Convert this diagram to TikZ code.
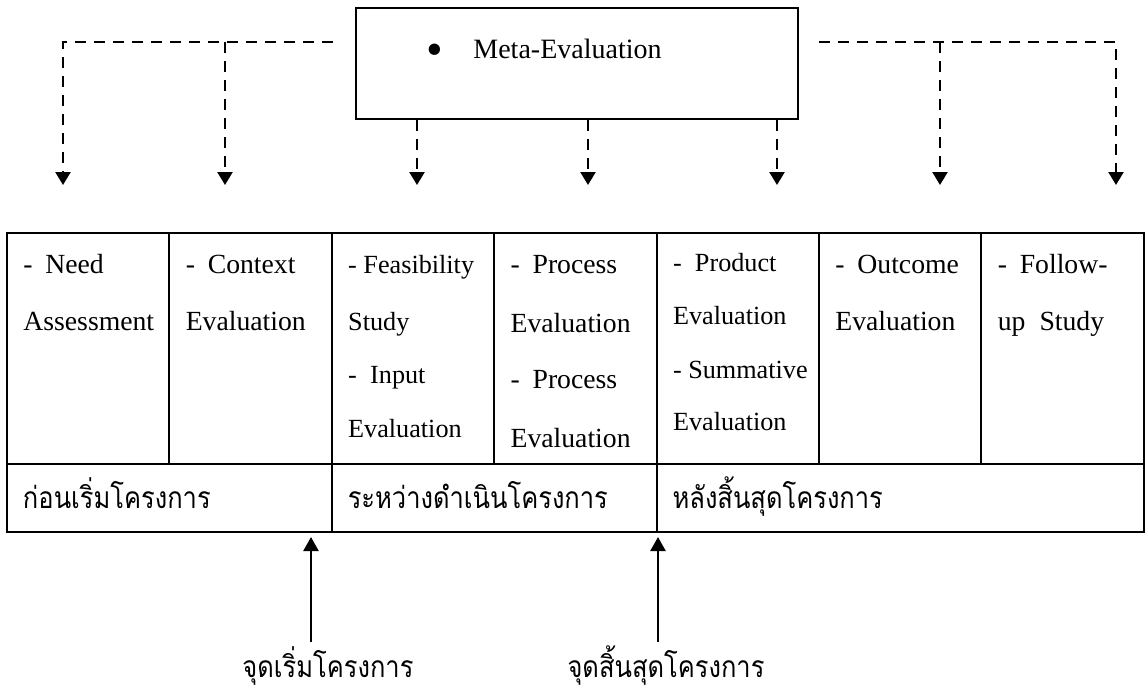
\documentclass[tikz,border=0pt]{standalone}
\usepackage{fontspec}
\usepackage{graphicx}
\setmainfont{Liberation Serif}
\newfontfamily\thaifont[Script=Thai,FakeStretch=0.85]{Loma}
\usetikzlibrary{arrows.meta,positioning}
\tikzset{
  cell/.style = {draw, line width=1pt, inner sep=0pt, outer sep=0pt, anchor=north west,
                 minimum width=81.2pt, minimum height=115.5pt},
  bcell/.style = {draw, line width=1pt, inner xsep=8pt, inner ysep=0pt, outer sep=0pt,
                  anchor=north west, minimum height=34pt, align=left,
                  text height=12pt, text depth=2pt, font=\thaifont\fontsize{15pt}{17pt}\selectfont},
  txt/.style = {anchor=base west, inner sep=0pt, font=\fontsize{13.85pt}{16pt}\selectfont},
  stxt/.style = {anchor=base west, inner sep=0pt, font=\fontsize{13.1pt}{15pt}\selectfont},
  lbl/.style = {anchor=base, inner sep=0pt, font=\thaifont\fontsize{15pt}{17pt}\selectfont},
  dashline/.style = {line width=1.2pt, dash pattern=on 5.5pt off 4pt,
                     -{Triangle[length=6.5pt,width=7.5pt]}},
  uparrow/.style = {line width=1.2pt, -{Triangle[length=7pt,width=7.5pt]}}
}
\newcommand\dd[1]{\makebox[11pt][l]{-}#1}
\begin{document}
\begin{tikzpicture}[x=0.5pt, y=-0.5pt]
\useasboundingbox (0,0) rectangle (1145,698);

% Meta-Evaluation box
\node[draw, line width=1pt, minimum width=221pt, minimum height=55.5pt] (meta) at (577,63.5) {};
\node[txt, font=\fontsize{14pt}{16pt}\selectfont] (metatext) at (426,58)
     {\makebox[23.5pt][l]{\raisebox{-3.8pt}{\scalebox{1.7}{\textbullet}}}Meta-Evaluation};

% arrow targets above the table
\foreach \x [count=\i] in {63,225,417,588,777,940,1116}
  \coordinate (t\i) at (\x,185);
\coordinate (lj) at (333,42);
\coordinate (rj) at (819,42);

\draw[dashline] (lj) -| (t1);
\draw[dashline] (t2 |- lj) -- (t2);
\foreach \i in {3,4,5}
  \draw[dashline] (t\i |- meta.south) -- (t\i);
\draw[dashline] (rj) -| (t7);
\draw[dashline] (t6 |- rj) -- (t6);

% table, upper row
\node[cell] (c1) at (7,233) {};
\foreach \i [remember=\i as \j (initially 1)] in {2,...,7}
  \node[cell, right=0pt of c\j] (c\i) {};

\foreach \c/\dy/\t/\s [count=\n] in {
    1/40/\dd{Need}/txt, 1/97/Assessment/txt,
    2/40/\dd{Context}/txt, 2/97/Evaluation/txt,
    3/40/- Feasibility/stxt, 3/97/Study/stxt, 3/150/\dd{Input}/stxt, 3/204/Evaluation/stxt,
    4/40/\dd{Process}/txt, 4/99/Evaluation/txt, 4/155/\dd{Process}/txt, 4/214/Evaluation/txt,
    5/38/\dd{Product}/stxt, 5/91/Evaluation/stxt, 5/145/- Summative/stxt, 5/197/Evaluation/stxt,
    6/40/\dd{Outcome}/txt, 6/97/Evaluation/txt,
    7/40/\dd{Follow-}/txt, 7/97/{up\hspace{7pt}Study}/txt}
  \node[\s] (l\n) at ([shift={(16,\dy)}]c\c.north west) {\t};

% table, lower row
\node[bcell, minimum width=162.4pt, text width=146.4pt] (b1) at (c1.south west) {ก่อนเริ่มโครงการ};
\node[bcell, minimum width=162.4pt, text width=146.4pt] (b2) at (c3.south west) {ระหว่างดำเนินโครงการ};
\node[bcell, minimum width=243.6pt, text width=227.6pt] (b3) at (c5.south west) {หลังสิ้นสุดโครงการ};

% start and end of the project
\node[lbl] (startlbl) at (328,677) {จุดเริ่มโครงการ};
\node[lbl] (endlbl) at (666,677) {จุดสิ้นสุดโครงการ};
\coordinate (sp) at (311,642);
\coordinate (ep) at (658,642);
\draw[uparrow, shorten >=2.5pt] (sp) -- (sp |- b1.south);
\draw[uparrow, shorten >=2.5pt] (ep) -- (ep |- b3.south);
\end{tikzpicture}
\end{document}
